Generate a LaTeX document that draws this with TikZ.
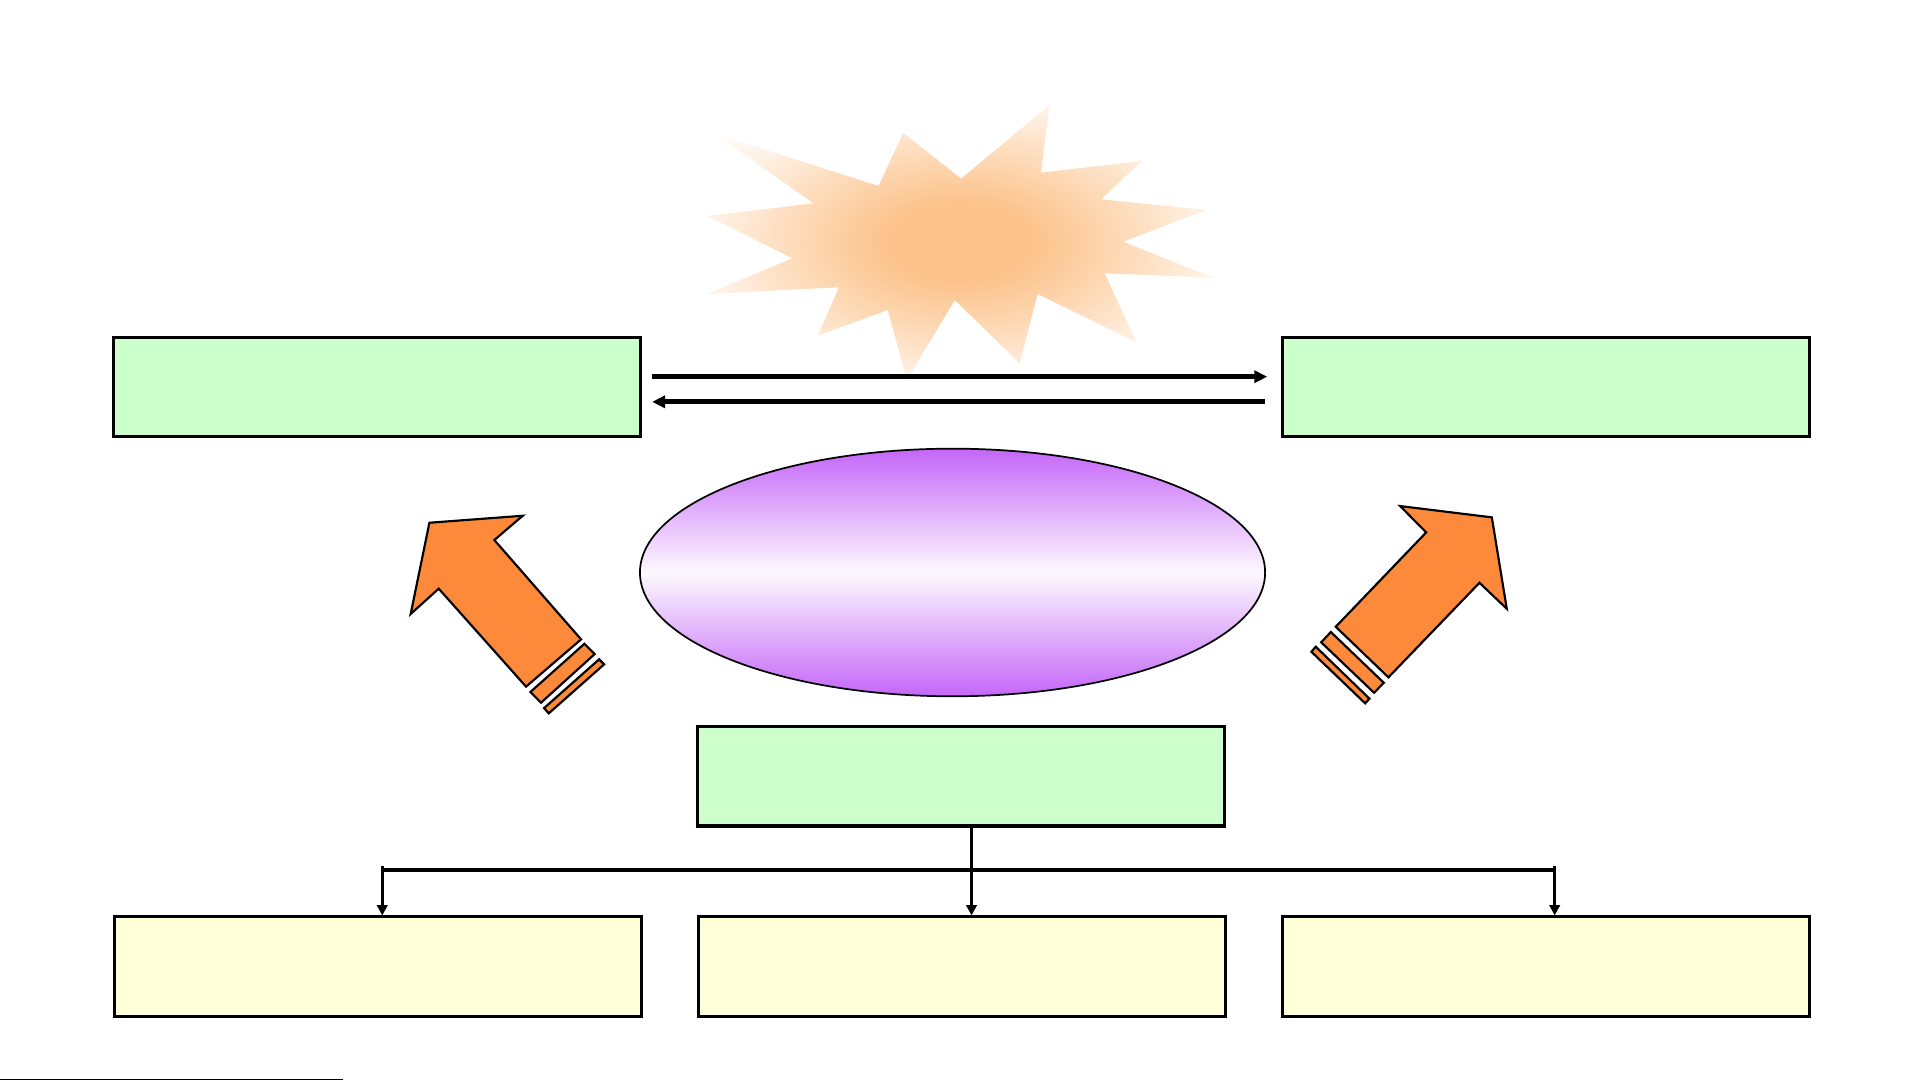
\documentclass[tikz,border=0pt]{standalone}
\usetikzlibrary{arrows.meta,shapes.geometric}
\definecolor{boxgreen}{HTML}{CCFFCC}
\definecolor{boxyellow}{HTML}{FFFFDA}
\definecolor{burstpeach}{RGB}{252,194,138}
\definecolor{arrorange}{RGB}{253,138,58}
\definecolor{ovpurple}{RGB}{196,102,248}
\pgfdeclareradialshading{burstfade}{\pgfpoint{0bp}{0bp}}{color(0bp)=(burstpeach); color(7bp)=(burstpeach); color(16bp)=(burstpeach!62!white); color(25bp)=(burstpeach!22!white); color(33bp)=(white); color(50bp)=(white)}
\begin{document}
\begin{tikzpicture}[x=0.01cm,y=-0.01cm,
  greenbox/.style={draw,line width=0.7pt,fill=boxgreen,minimum width=4.3cm,minimum height=0.81cm,inner sep=0pt},
  yellowbox/.style={greenbox,fill=boxyellow},
  link/.style={line width=1.1pt,-{Triangle[length=3pt,width=2.8pt]}},
  tree/.style={line width=0.8pt},
  treearrow/.style={tree,-{Triangle[length=2.4pt,width=2.4pt]}},
  fatarrow/.style={draw,line width=0.5pt,fill=arrorange,line join=miter}]
  \useasboundingbox (0,0) rectangle (1568,882.4);

  % burst behind everything
  \shade[shading=burstfade] (582.7,108.8) -- (717.1,151.8) -- (737.3,108.3) -- (784.5,145.9)
    -- (856.7,85.7) -- (849.7,141) -- (931.8,131.4) -- (898.9,162.7) -- (984.7,171.4)
    -- (916.7,197.3) -- (990.3,226.7) -- (901.7,223.1) -- (927.6,279.4) -- (847,240)
    -- (832.3,296.6) -- (779.4,244.9) -- (740.1,310.2) -- (724.7,253.1) -- (667.6,274)
    -- (684.7,234.5) -- (577.1,240) -- (646.8,210.9) -- (577.1,176.3) -- (664.2,166) -- cycle;

  \node[greenbox] (lbox) at (308,316) {};
  \node[greenbox] (rbox) at (1261.7,316) {};
  \node[greenbox] (core) at (784.7,633.7) {};
  \node[yellowbox] (b1) at (308.3,789) {};
  \node[yellowbox] (b2) at (785.3,789) {};
  \node[yellowbox] (b3) at (1261.7,789) {};

  \node[ellipse,draw,line width=0.4pt,minimum width=5.1cm,minimum height=2.02cm,
    top color=ovpurple,bottom color=ovpurple,middle color=ovpurple!4!white] (ell) at (777.5,467.3) {};

  \draw[link] ([shift={(8,-8.5)}]lbox.east) -- ([shift={(-11,-8.5)}]rbox.west);
  \draw[link] ([shift={(-12.6,12)}]rbox.west) -- ([shift={(8,12)}]lbox.east);

  % orange arrows
  \filldraw[fatarrow] (350.5,426.7) -- (426.7,421) -- (403.5,440.8) -- (474.3,521.9)
    -- (429.4,560.5) -- (358.1,480.5) -- (335.2,501.2) -- cycle;
  \filldraw[fatarrow] (477,525.5) -- (485.4,533.9) -- (441.6,573.6) -- (432.9,564.9) -- cycle;
  \filldraw[fatarrow] (489,538.2) -- (493.1,542.3) -- (447.9,582.3) -- (444.1,578) -- cycle;

  \filldraw[fatarrow] (1217.7,422.3) -- (1229.9,496.9) -- (1207.6,475.7) -- (1133.3,552.9)
    -- (1090.3,511.6) -- (1164.1,434.6) -- (1142.9,413.1) -- cycle;
  \filldraw[fatarrow] (1086.3,515.9) -- (1129.5,557.3) -- (1121.6,565.5) -- (1078.4,524.3) -- cycle;
  \filldraw[fatarrow] (1074,527.9) -- (1117.8,570.3) -- (1114.3,574.1) -- (1070.4,532) -- cycle;

  % tree
  \coordinate (fork) at (793,710.2);
  \coordinate (forkl) at (312,710.2);
  \coordinate (forkr) at (1269,710.2);
  \draw[treearrow] (core.south -| fork) -- (fork |- b2.north);
  \draw[tree] (forkl) -- (forkr);
  \draw[treearrow] ([yshift=1pt]forkl) -- (forkl |- b1.north);
  \draw[treearrow] ([yshift=1pt]forkr) -- (forkr |- b3.north);

  \draw[line width=0.3pt] (0,881.2) -- (280,881.2);
\end{tikzpicture}
\end{document}
